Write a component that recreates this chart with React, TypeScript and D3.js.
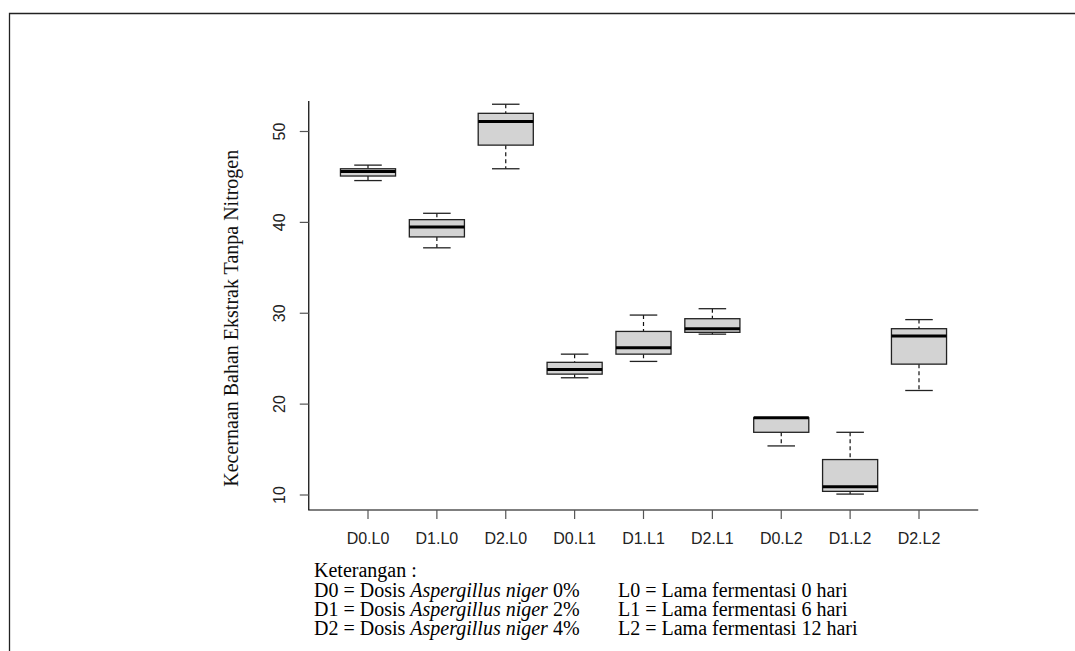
import React, { useRef, useEffect } from 'react';
import * as d3 from 'd3';

// treatment groups (dose x fermentation time)
const categories = ['D0.L0', 'D1.L0', 'D2.L0', 'D0.L1', 'D1.L1', 'D2.L1', 'D0.L2', 'D1.L2', 'D2.L2'];
const lowerWhisker = [44.6, 37.2, 45.9, 22.9, 24.7, 27.7, 15.4, 10.1, 21.5];
const q1 = [45.1, 38.4, 48.5, 23.3, 25.5, 27.9, 16.9, 10.4, 24.4];
const median = [45.6, 39.5, 51.1, 23.8, 26.2, 28.3, 18.5, 10.9, 27.5];
const q3 = [45.9, 40.3, 52.0, 24.6, 28.0, 29.4, 18.5, 13.9, 28.3];
const upperWhisker = [46.3, 41.0, 53.0, 25.5, 29.8, 30.5, 18.5, 16.9, 29.3];
const yTicks = [10, 20, 30, 40, 50];

const yTitle = 'Kecernaan Bahan Ekstrak Tanpa Nitrogen';
const doseCodes = ['D0', 'D1', 'D2'];
const dosePercent = ['0%', '2%', '4%'];
const timeCodes = ['L0', 'L1', 'L2'];
const timeDays = ['0', '6', '12'];

const W = 1075;
const H = 651;
const SERIF = '"Liberation Serif", "Times New Roman", serif';
const SANS = '"Liberation Sans", Arial, sans-serif';

const BoxChart = () => {
  const svgRef = useRef<SVGSVGElement>(null);

  useEffect(() => {
    const svg = d3.select(svgRef.current);
    svg.selectAll('*').remove();

    const x = d3.scalePoint<string>().domain(categories).range([368, 919]);
    const step = x.step();
    const y = d3.scaleLinear().domain([10, 50]).range([495, 131.5]);

    // outer frame (only top and left visible)
    svg.append('path')
      .attr('d', `M9.5,${H} V13.5 H${W}`)
      .attr('fill', 'none')
      .attr('stroke', '#222')
      .attr('stroke-width', 1.3);

    const g = svg.append('g');

    // L-shaped axes
    const xLeft = (x(categories[0]) as number) - step * 0.86;
    const xRight = (x(categories[categories.length - 1]) as number) + step * 0.86;
    g.append('path')
      .attr('d', `M${xLeft},${y(53.36)} V${y(8.35)} H${xRight}`)
      .attr('fill', 'none')
      .attr('stroke', '#000')
      .attr('stroke-width', 1.2);

    // y ticks
    yTicks.forEach(t => {
      g.append('line')
        .attr('x1', xLeft).attr('x2', xLeft - 9)
        .attr('y1', y(t)).attr('y2', y(t))
        .attr('stroke', '#555').attr('stroke-width', 1.2);
      g.append('text')
        .attr('transform', `translate(${xLeft - 23.5},${y(t)}) rotate(-90)`)
        .attr('text-anchor', 'middle')
        .style('font-family', SANS)
        .style('font-size', '16px')
        .style('fill', '#222')
        .text(t);
    });

    // x ticks
    categories.forEach(c => {
      const cx = x(c) as number;
      g.append('line')
        .attr('x1', cx).attr('x2', cx)
        .attr('y1', y(8.35)).attr('y2', y(8.35) + 9)
        .attr('stroke', '#555').attr('stroke-width', 1.2);
      g.append('text')
        .attr('x', cx)
        .attr('y', 544)
        .attr('text-anchor', 'middle')
        .style('font-family', SANS)
        .style('font-size', '16px')
        .style('fill', '#222')
        .text(c);
    });

    // y title
    g.append('text')
      .attr('transform', `translate(238,${(y(10) + y(50)) / 2 + 5}) rotate(-90)`)
      .attr('text-anchor', 'middle')
      .style('font-family', SERIF)
      .style('font-size', '20px')
      .style('fill', '#111')
      .text(yTitle);

    // boxes
    const boxW = step * 0.8;
    const capW = boxW / 2;
    categories.forEach((c, i) => {
      const cx = x(c) as number;
      const bg = g.append('g');

      // dashed whiskers
      bg.append('line')
        .attr('x1', cx).attr('x2', cx)
        .attr('y1', y(upperWhisker[i])).attr('y2', y(q3[i]))
        .attr('stroke', '#111').attr('stroke-width', 1.2)
        .attr('stroke-dasharray', '4,3');
      bg.append('line')
        .attr('x1', cx).attr('x2', cx)
        .attr('y1', y(q1[i])).attr('y2', y(lowerWhisker[i]))
        .attr('stroke', '#111').attr('stroke-width', 1.2)
        .attr('stroke-dasharray', '4,3');

      // caps
      [upperWhisker[i], lowerWhisker[i]].forEach(v => {
        bg.append('line')
          .attr('x1', cx - capW / 2).attr('x2', cx + capW / 2)
          .attr('y1', y(v)).attr('y2', y(v))
          .attr('stroke', '#222').attr('stroke-width', 1.3);
      });

      bg.append('rect')
        .attr('x', cx - boxW / 2)
        .attr('y', y(q3[i]))
        .attr('width', boxW)
        .attr('height', y(q1[i]) - y(q3[i]))
        .attr('fill', '#d3d3d3')
        .attr('stroke', '#222')
        .attr('stroke-width', 1.3);

      bg.append('line')
        .attr('x1', cx - boxW / 2).attr('x2', cx + boxW / 2)
        .attr('y1', y(median[i])).attr('y2', y(median[i]))
        .attr('stroke', '#000').attr('stroke-width', 3);
    });

    // legend
    const leg = svg.append('g')
      .style('font-family', SERIF)
      .style('font-size', '20px')
      .style('fill', '#000');
    leg.append('text').attr('x', 314).attr('y', 577).text('Keterangan :');
    const rowY = [597, 616, 635];
    doseCodes.forEach((d, i) => {
      const t = leg.append('text').attr('x', 314).attr('y', rowY[i]);
      t.append('tspan').text(`${d} = Dosis `);
      t.append('tspan').style('font-style', 'italic').text('Aspergillus niger');
      t.append('tspan').text(` ${dosePercent[i]}`);
      leg.append('text').attr('x', 618).attr('y', rowY[i])
        .text(`${timeCodes[i]} = Lama fermentasi ${timeDays[i]} hari`);
    });
  }, []);

  return (
    <svg
      ref={svgRef}
      width={W}
      height={H}
      style={{ position: 'absolute', left: 0, top: 0, background: 'white' }}
    />
  );
};

export default function App() {
  return <BoxChart />;
}
